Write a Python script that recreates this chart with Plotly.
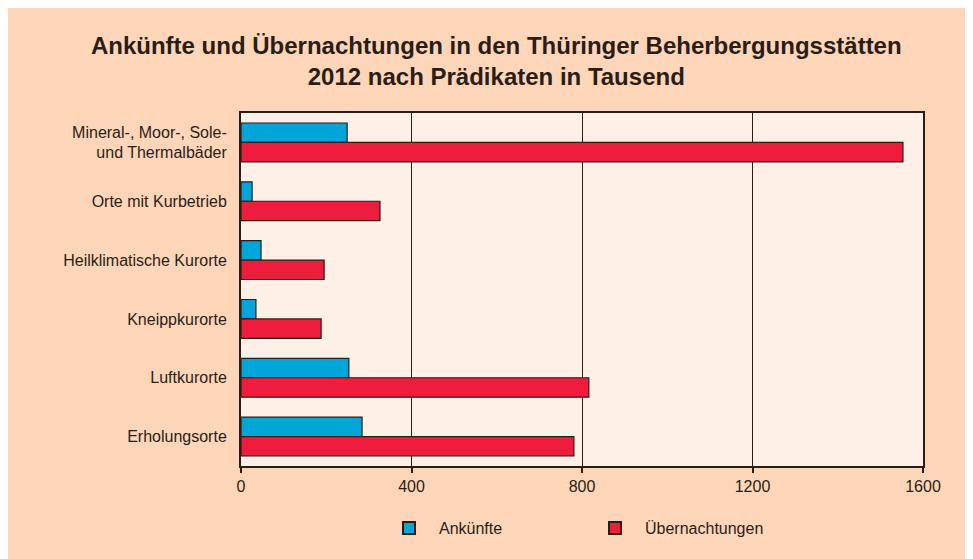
import plotly.graph_objects as go

categories = ["Mineral-, Moor-, Sole-<br>und Thermalbäder", "Orte mit Kurbetrieb",
              "Heilklimatische Kurorte", "Kneippkurorte", "Luftkurorte", "Erholungsorte"]
ankuenfte = [249, 26, 47, 35, 253, 284]
uebernachtungen = [1553, 326, 195, 188, 816, 781]
x_ticks = [0, 400, 800, 1200, 1600]

dark = "#2b1d14"
W, H = 965, 551
ml, mr, mt, mb = 233, 50, 105, 93

fig = go.Figure()
fig.add_trace(go.Bar(y=categories, x=ankuenfte, orientation="h", name="Ankünfte",
                     marker=dict(color="#00A5DA", line=dict(color=dark, width=1.2))))
fig.add_trace(go.Bar(y=categories, x=uebernachtungen, orientation="h", name="Übernachtungen",
                     marker=dict(color="#EE1D3D", line=dict(color=dark, width=1.2))))

fig.update_layout(
    width=W, height=H,
    margin=dict(l=ml, r=mr, t=mt, b=mb, pad=0, autoexpand=False),
    paper_bgcolor="#FDD6BA",
    plot_bgcolor="#FEF0E6",
    barmode="group", bargap=0.34, bargroupgap=0,
    font=dict(family="Liberation Sans, Arial, sans-serif", size=16, color=dark),
    title=dict(text="<b>Ankünfte und Übernachtungen in den Thüringer Beherbergungsstätten<br>2012 nach Prädikaten in Tausend</b>",
               x=0.506, xanchor="center", y=0.9165, yanchor="middle",
               font=dict(size=24, color=dark)),
    xaxis=dict(range=[0, 1600], tickvals=x_ticks, showgrid=True, gridcolor=dark, gridwidth=1,
               showline=True, linecolor=dark, linewidth=2, mirror=True,
               ticks="outside", ticklen=5, tickcolor=dark, tickwidth=1.5, zeroline=False,
               tickfont=dict(size=16, color=dark), automargin=False),
    yaxis=dict(autorange="reversed", showline=True, linecolor=dark, linewidth=2, mirror=True,
               showgrid=False, ticks="", ticklabelstandoff=9,
               tickfont=dict(size=16, color=dark), automargin=False),
    legend=dict(orientation="h", x=(379 - 241) / 682, xanchor="left",
                yref="container", y=1 - 520 / 551, yanchor="middle",
                itemwidth=50, entrywidth=141, entrywidthmode="pixels", bgcolor="rgba(0,0,0,0)",
                font=dict(size=16, color=dark), itemsizing="constant"),
)

fig.write_html("out.html")
